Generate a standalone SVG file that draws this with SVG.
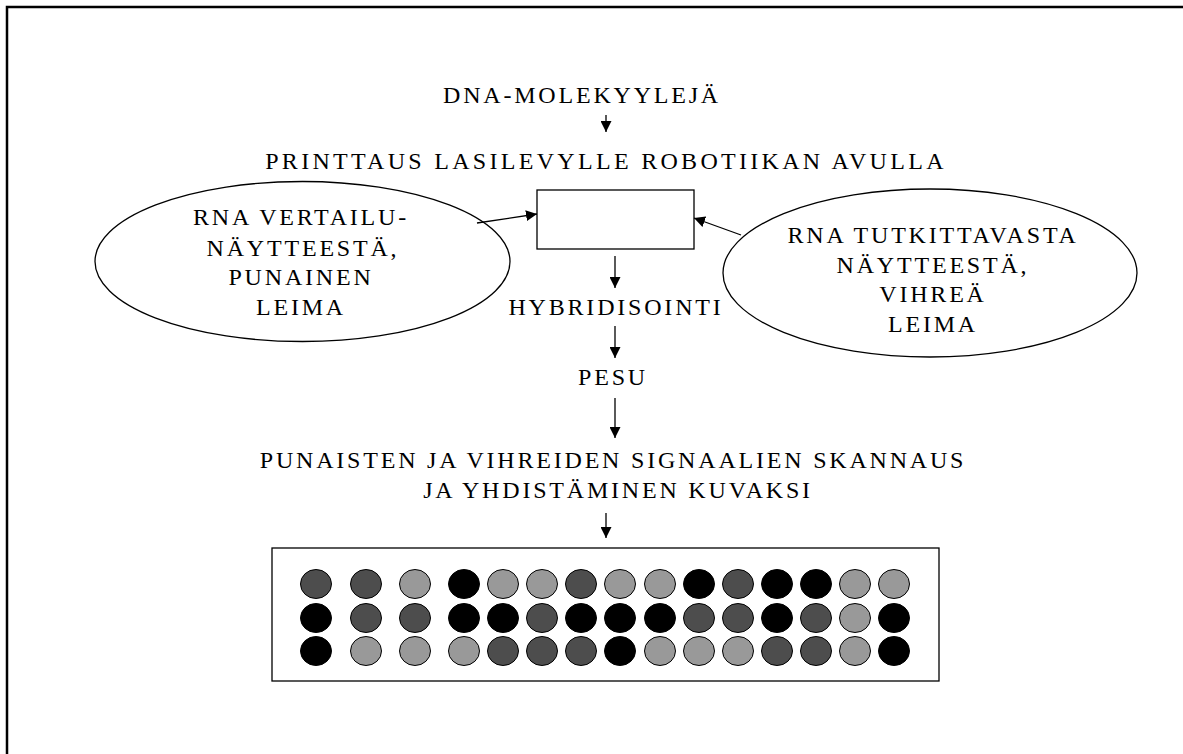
<svg xmlns="http://www.w3.org/2000/svg" width="1183" height="754" viewBox="0 0 1183 754">
<defs>
<marker id="ah" markerUnits="userSpaceOnUse" markerWidth="11" markerHeight="11" viewBox="0 0 10 10" refX="10" refY="5" orient="auto"><path d="M0,0 L10,5 L0,10 z" fill="#000"/></marker>
<style>
.t{font-family:"Liberation Serif","Times New Roman",serif;font-size:24px;letter-spacing:2.8px;fill:#000;text-anchor:middle}
.c{stroke:#000;stroke-width:1.3;fill:none;marker-end:url(#ah)}
.sh{fill:#fff;stroke:#000;stroke-width:1.3}
.d{fill:#4d4d4d;stroke:#000;stroke-width:1}
.l{fill:#999;stroke:#000;stroke-width:1}
.b{fill:#000;stroke:#000;stroke-width:1}
</style>
</defs>
<rect x="0" y="0" width="1183" height="754" fill="#fff"/>
<rect x="7" y="7" width="1200" height="800" fill="none" stroke="#000" stroke-width="2.5"/>
<g id="dna"><text class="t" x="582" y="103">DNA-MOLEKYYLEJÄ</text></g>
<g id="printtaus"><text class="t" x="606" y="169" style="letter-spacing:3.3px">PRINTTAUS LASILEVYLLE ROBOTIIKAN AVULLA</text></g>
<g id="lasilevy"><rect class="sh" x="537" y="190" width="157" height="59"/></g>
<g id="vertailu"><ellipse class="sh" cx="302.5" cy="261.5" rx="207.5" ry="80"/>
<text class="t" x="301" y="225">RNA VERTAILU-</text>
<text class="t" x="303" y="256">NÄYTTEESTÄ,</text>
<text class="t" x="301" y="285">PUNAINEN</text>
<text class="t" x="301" y="315">LEIMA</text></g>
<g id="tutkittava"><ellipse class="sh" cx="930" cy="273" rx="207" ry="84"/>
<text class="t" x="933" y="243">RNA TUTKITTAVASTA</text>
<text class="t" x="933" y="273">NÄYTTEESTÄ,</text>
<text class="t" x="933" y="302">VIHREÄ</text>
<text class="t" x="933" y="332">LEIMA</text></g>
<g id="hybridisointi"><text class="t" x="616" y="315">HYBRIDISOINTI</text></g>
<g id="pesu"><text class="t" x="613" y="385">PESU</text></g>
<g id="skannaus"><text class="t" x="613" y="468">PUNAISTEN JA VIHREIDEN SIGNAALIEN SKANNAUS</text>
<text class="t" x="618" y="498">JA YHDISTÄMINEN KUVAKSI</text></g>
<g id="kuva"><rect class="sh" x="272" y="548" width="667" height="133"/>
<g id="r1">
<ellipse class="d" cx="316" cy="584" rx="15.5" ry="14.5"/><ellipse class="d" cx="366" cy="584" rx="15.5" ry="14.5"/><ellipse class="l" cx="415" cy="584" rx="15.5" ry="14.5"/><ellipse class="b" cx="464" cy="584" rx="15.5" ry="14.5"/><ellipse class="l" cx="503" cy="584" rx="15.5" ry="14.5"/><ellipse class="l" cx="542" cy="584" rx="15.5" ry="14.5"/><ellipse class="d" cx="581" cy="584" rx="15.5" ry="14.5"/><ellipse class="l" cx="620" cy="584" rx="15.5" ry="14.5"/><ellipse class="l" cx="660" cy="584" rx="15.5" ry="14.5"/><ellipse class="b" cx="699" cy="584" rx="15.5" ry="14.5"/><ellipse class="d" cx="738" cy="584" rx="15.5" ry="14.5"/><ellipse class="b" cx="777" cy="584" rx="15.5" ry="14.5"/><ellipse class="b" cx="816" cy="584" rx="15.5" ry="14.5"/><ellipse class="l" cx="855" cy="584" rx="15.5" ry="14.5"/><ellipse class="l" cx="894" cy="584" rx="15.5" ry="14.5"/>
</g>
<g id="r2">
<ellipse class="b" cx="316" cy="618" rx="15.5" ry="14.5"/><ellipse class="d" cx="366" cy="618" rx="15.5" ry="14.5"/><ellipse class="d" cx="415" cy="618" rx="15.5" ry="14.5"/><ellipse class="b" cx="464" cy="618" rx="15.5" ry="14.5"/><ellipse class="b" cx="503" cy="618" rx="15.5" ry="14.5"/><ellipse class="d" cx="542" cy="618" rx="15.5" ry="14.5"/><ellipse class="b" cx="581" cy="618" rx="15.5" ry="14.5"/><ellipse class="b" cx="620" cy="618" rx="15.5" ry="14.5"/><ellipse class="b" cx="660" cy="618" rx="15.5" ry="14.5"/><ellipse class="d" cx="699" cy="618" rx="15.5" ry="14.5"/><ellipse class="d" cx="738" cy="618" rx="15.5" ry="14.5"/><ellipse class="b" cx="777" cy="618" rx="15.5" ry="14.5"/><ellipse class="d" cx="816" cy="618" rx="15.5" ry="14.5"/><ellipse class="l" cx="855" cy="618" rx="15.5" ry="14.5"/><ellipse class="b" cx="894" cy="618" rx="15.5" ry="14.5"/>
</g>
<g id="r3">
<ellipse class="b" cx="316" cy="651" rx="15.5" ry="14.5"/><ellipse class="l" cx="366" cy="651" rx="15.5" ry="14.5"/><ellipse class="l" cx="415" cy="651" rx="15.5" ry="14.5"/><ellipse class="l" cx="464" cy="651" rx="15.5" ry="14.5"/><ellipse class="d" cx="503" cy="651" rx="15.5" ry="14.5"/><ellipse class="d" cx="542" cy="651" rx="15.5" ry="14.5"/><ellipse class="d" cx="581" cy="651" rx="15.5" ry="14.5"/><ellipse class="b" cx="620" cy="651" rx="15.5" ry="14.5"/><ellipse class="l" cx="660" cy="651" rx="15.5" ry="14.5"/><ellipse class="l" cx="699" cy="651" rx="15.5" ry="14.5"/><ellipse class="l" cx="738" cy="651" rx="15.5" ry="14.5"/><ellipse class="d" cx="777" cy="651" rx="15.5" ry="14.5"/><ellipse class="d" cx="816" cy="651" rx="15.5" ry="14.5"/><ellipse class="l" cx="855" cy="651" rx="15.5" ry="14.5"/><ellipse class="b" cx="894" cy="651" rx="15.5" ry="14.5"/>
</g>
</g>
<g id="connectors">
<line class="c" x1="606" y1="115" x2="606" y2="132"/>
<line class="c" x1="477" y1="223" x2="537" y2="214"/>
<line class="c" x1="741" y1="235" x2="694" y2="218"/>
<line class="c" x1="615" y1="256" x2="615" y2="288"/>
<line class="c" x1="615" y1="326" x2="615" y2="358"/>
<line class="c" x1="615" y1="398" x2="615" y2="438"/>
<line class="c" x1="606" y1="513" x2="606" y2="538"/>
</g>
</svg>
